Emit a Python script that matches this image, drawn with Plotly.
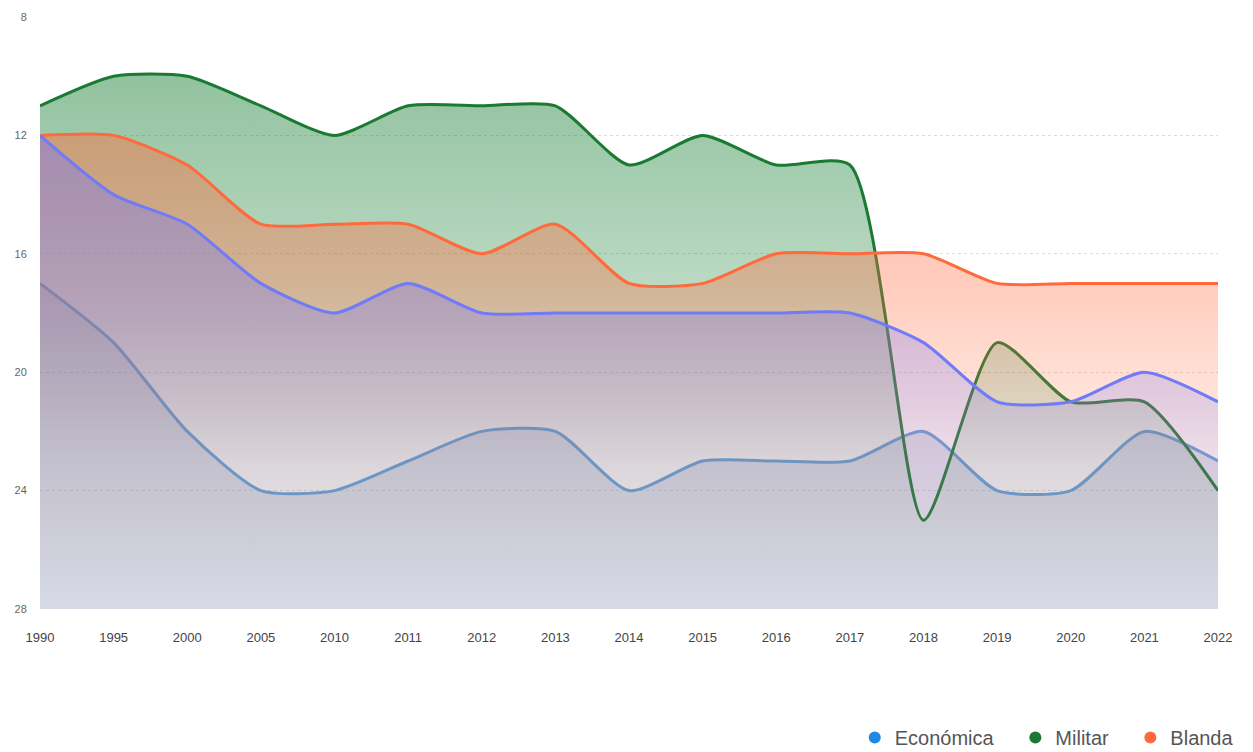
import plotly.graph_objects as go

years = ["1990", "1995", "2000", "2005", "2010", "2011", "2012", "2013", "2014",
         "2015", "2016", "2017", "2018", "2019", "2020", "2021", "2022"]

economica = [17, 19, 22, 24, 24, 23, 22, 22, 24, 23, 23, 23, 22, 24, 24, 22, 23]
militar = [11, 10, 10, 11, 12, 11, 11, 11, 13, 12, 13, 13, 25, 19, 21, 21, 24]
blanda = [12, 12, 13, 15, 15, 15, 16, 15, 17, 17, 16, 16, 16, 17, 17, 17, 17]
cuarta = [12, 14, 15, 17, 18, 17, 18, 18, 18, 18, 18, 18, 19, 21, 21, 20, 21]

y_ticks = [8, 12, 16, 20, 24, 28]
base_value = 28


def rgba(rgb, a):
    return "rgba(%d,%d,%d,%.3f)" % (rgb[0], rgb[1], rgb[2], a)


# name, values, line colour, legend colour, fill rgb, gradient stops, in legend
series = [
    ("Económica", economica, "#63a3dc", "#1e88e5", (108, 128, 175),
     [(0, 0.32), (0.55, 0.21), (1, 0.24)], True),
    ("Militar", militar, "#1a7a32", "#1a7a32", (26, 128, 54),
     [(0, 0.55), (0.15, 0.45), (0.45, 0.30), (0.75, 0.11), (1, 0.02)], True),
    ("Blanda", blanda, "#ff6a3d", "#ff6a3d", (255, 106, 61),
     [(0, 0.55), (0.45, 0.34), (0.6, 0.22), (0.75, 0.11), (1, 0.02)], True),
    ("Serie 4", cuarta, "#6f7bf7", "#6f7bf7", (120, 120, 240),
     [(0, 0.55), (0.5, 0.33), (0.75, 0.13), (1, 0.02)], False),
]

fig = go.Figure()
xs = list(range(len(years)))
for name, vals, lc, legc, frgb, stops, leg in series:
    fig.add_trace(go.Scatter(
        x=xs, y=[base_value] * len(xs), mode="lines",
        line=dict(width=0), hoverinfo="skip", showlegend=False))
    fig.add_trace(go.Scatter(
        x=xs, y=vals, mode="lines", name=name,
        line=dict(color=lc, width=3, shape="spline", smoothing=0.65),
        fill="tonexty",
        fillgradient=dict(
            type="vertical", start=8, stop=28,
            colorscale=[[p, rgba(frgb, a)] for p, a in stops]),
        showlegend=False))

for name, vals, lc, legc, frgb, stops, leg in series:
    if leg:
        fig.add_trace(go.Scatter(
            x=[None], y=[None], mode="markers", name=name + "\u00a0\u00a0\u00a0",
            marker=dict(color=legc, size=16, symbol="circle"),
            showlegend=True))

fig.update_layout(
    width=1253, height=752,
    margin=dict(l=32, r=43, t=9, b=151),
    paper_bgcolor="white", plot_bgcolor="white",
    font=dict(family="Liberation Sans, Arial, sans-serif", color="#555"),
    legend=dict(orientation="h", xref="container", x=0.995, xanchor="right",
                yref="container", y=0.03, yanchor="middle",
                font=dict(size=20, color="#555"), itemsizing="constant",
                traceorder="normal", itemwidth=30),
    showlegend=True,
)
fig.update_xaxes(
    tickmode="array", tickvals=xs, ticktext=years, automargin=False,
    range=[0, len(years) - 1], showgrid=False, zeroline=False,
    showline=False, ticks="outside", ticklen=16, tickcolor="rgba(0,0,0,0)",
    tickfont=dict(size=13, color="#444"))
fig.update_yaxes(
    range=[28, 8], tickmode="array", tickvals=y_ticks, automargin=False,
    showgrid=True, gridcolor="#dcdcdc", griddash="dot", gridwidth=1,
    zeroline=False, showline=False,
    tickfont=dict(size=11, color="#666"), ticks="outside", ticklen=10,
    tickcolor="rgba(0,0,0,0)")

fig.write_html("out.html")
